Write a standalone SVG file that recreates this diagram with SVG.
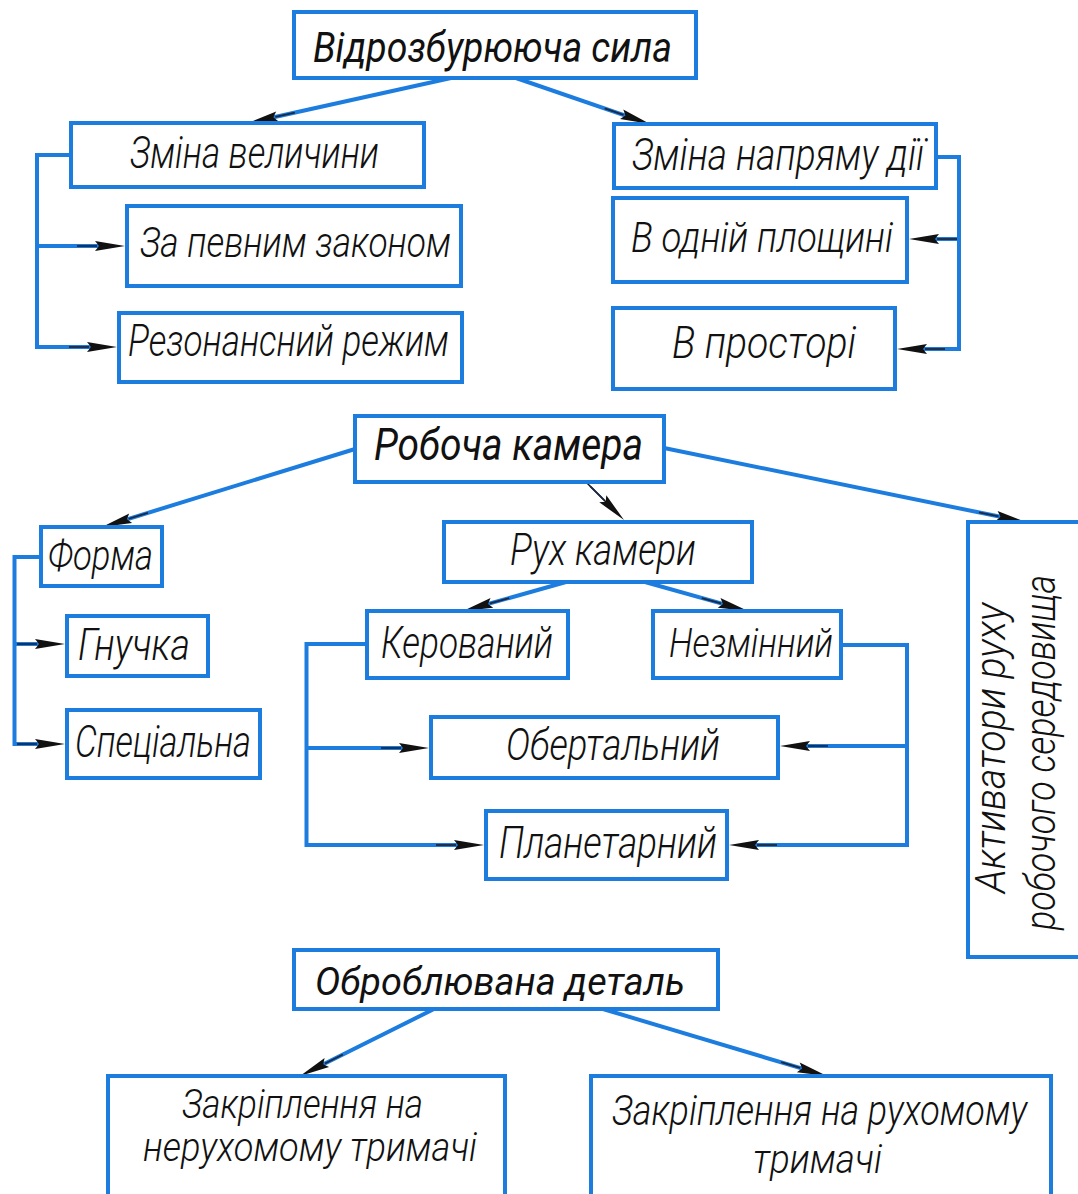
<svg xmlns="http://www.w3.org/2000/svg" width="1078" height="1194" viewBox="0 0 1078 1194">
<style>
rect.b{fill:#fff;stroke:#1c7ddf;stroke-width:4}
.c path,.c line{fill:none;stroke:#1c7ddf;stroke-width:4;marker-end:url(#ah)}
.c line.k{stroke:#111;stroke-width:1.5}
text{font-family:Roboto,"Liberation Sans",sans-serif;font-style:italic;font-weight:300;fill:#111}
text.h{font-weight:400}
</style>
<defs>
<marker id="ah" markerUnits="userSpaceOnUse" viewBox="-34 -7 52 14" refX="0" refY="0" markerWidth="52" markerHeight="14" orient="auto">
<path d="M-32,-0.9 H-12 V0.9 H-32 Z" fill="#1a2a44"/>
<path d="M16,0 L-14,-5 L-10,0 L-14,5 Z" fill="#111"/>
</marker>
</defs>
<rect width="1078" height="1194" fill="#fff"/>
<g class="c" id="connectors">
<line x1="451" y1="78" x2="263.6" y2="119.5"/>
<line x1="516" y1="78" x2="634.9" y2="118.8"/>
<path d="M71,155 H37 V347 H101"/>
<path d="M37,246 H109"/>
<path d="M936,157 H959 V349 H913"/>
<path d="M959,239 H925"/>
<line x1="355" y1="449" x2="117.3" y2="522.3"/>
<line class="k" x1="585" y1="481" x2="612.7" y2="508.7"/>
<line x1="664" y1="448" x2="1010.3" y2="518.8"/>
<path d="M41,557 H14.5 V744 H49"/>
<path d="M14.5,644 H49"/>
<line x1="566" y1="582" x2="478.4" y2="606.7"/>
<line x1="645" y1="582" x2="732.6" y2="606.7"/>
<path d="M367,644 H306.5 V845 H468"/>
<path d="M306.5,748 H413"/>
<path d="M841,645 H907 V845 H745"/>
<path d="M907,746 H796"/>
<line x1="434" y1="1009" x2="314.3" y2="1068.8"/>
<line x1="603" y1="1009" x2="811.7" y2="1071.4"/>
</g>
<g id="n-title"><rect class="b" x="294" y="12" width="402" height="66"/><text class="h" x="313" y="62" font-size="42" textLength="359" lengthAdjust="spacingAndGlyphs">Відрозбурююча сила</text></g>
<g id="n-zmina-vel"><rect class="b" x="71" y="123" width="353" height="64"/><text x="130" y="168" font-size="44" textLength="249" lengthAdjust="spacingAndGlyphs">Зміна величини</text></g>
<g id="n-za-pevnym"><rect class="b" x="127" y="206" width="334" height="80"/><text x="140" y="257" font-size="43" textLength="311" lengthAdjust="spacingAndGlyphs">За певним законом</text></g>
<g id="n-rezonans"><rect class="b" x="119" y="313" width="343" height="69"/><text x="128" y="356" font-size="44" textLength="321" lengthAdjust="spacingAndGlyphs">Резонансний режим</text></g>
<g id="n-zmina-napr"><rect class="b" x="614" y="124" width="322" height="64"/><text x="632" y="170" font-size="44" textLength="292" lengthAdjust="spacingAndGlyphs">Зміна напряму дії</text></g>
<g id="n-v-odnii"><rect class="b" x="613" y="198" width="294" height="84"/><text x="631" y="252" font-size="42" textLength="262" lengthAdjust="spacingAndGlyphs">В одній площині</text></g>
<g id="n-v-prostori"><rect class="b" x="613" y="308" width="282" height="81"/><text x="672" y="358" font-size="44" textLength="184" lengthAdjust="spacingAndGlyphs">В просторі</text></g>
<g id="n-robocha"><rect class="b" x="355" y="416" width="309" height="66"/><text class="h" x="374" y="460" font-size="45" textLength="269" lengthAdjust="spacingAndGlyphs">Робоча камера</text></g>
<g id="n-forma"><rect class="b" x="41" y="527" width="121" height="59"/><text x="48" y="570" font-size="42" textLength="105" lengthAdjust="spacingAndGlyphs">Форма</text></g>
<g id="n-gnuchka"><rect class="b" x="67" y="616" width="141" height="60"/><text x="78" y="660" font-size="44" textLength="112" lengthAdjust="spacingAndGlyphs">Гнучка</text></g>
<g id="n-specialna"><rect class="b" x="67" y="710" width="193" height="68"/><text x="75" y="757" font-size="45" textLength="176" lengthAdjust="spacingAndGlyphs">Спеціальна</text></g>
<g id="n-rukh"><rect class="b" x="444" y="522" width="308" height="60"/><text x="510" y="565" font-size="44" textLength="186" lengthAdjust="spacingAndGlyphs">Рух камери</text></g>
<g id="n-kerovanyi"><rect class="b" x="367" y="611" width="201" height="67"/><text x="381" y="658" font-size="44" textLength="172" lengthAdjust="spacingAndGlyphs">Керований</text></g>
<g id="n-nezminnyi"><rect class="b" x="653" y="611" width="188" height="67"/><text x="669" y="657" font-size="41" textLength="164" lengthAdjust="spacingAndGlyphs">Незмінний</text></g>
<g id="n-obertalnyi"><rect class="b" x="431" y="717" width="347" height="61"/><text x="506" y="760" font-size="44" textLength="214" lengthAdjust="spacingAndGlyphs">Обертальний</text></g>
<g id="n-planetarnyi"><rect class="b" x="486" y="811" width="241" height="68"/><text x="499" y="858" font-size="44" textLength="218" lengthAdjust="spacingAndGlyphs">Планетарний</text></g>
<g id="n-aktyvatory"><rect class="b" x="968" y="522" width="130" height="435"/>
<text transform="translate(1005,893) rotate(-90)" font-size="42" textLength="290" lengthAdjust="spacingAndGlyphs">Активатори руху</text>
<text transform="translate(1055,930) rotate(-90)" font-size="42" textLength="355" lengthAdjust="spacingAndGlyphs">робочого середовища</text></g>
<g id="n-obrobl"><rect class="b" x="294" y="950" width="424" height="59"/><text class="h" x="315" y="995" font-size="38" textLength="370" lengthAdjust="spacingAndGlyphs">Оброблювана деталь</text></g>
<g id="n-zakr-left"><rect class="b" x="108" y="1076" width="397" height="130"/>
<text x="182" y="1118" font-size="40" textLength="241" lengthAdjust="spacingAndGlyphs">Закріплення на</text>
<text x="143" y="1161" font-size="40" textLength="334" lengthAdjust="spacingAndGlyphs">нерухомому тримачі</text></g>
<g id="n-zakr-right"><rect class="b" x="591" y="1076" width="460" height="130"/>
<text x="612" y="1125" font-size="42" textLength="415" lengthAdjust="spacingAndGlyphs">Закріплення на рухомому</text>
<text x="753" y="1173" font-size="40" textLength="129" lengthAdjust="spacingAndGlyphs">тримачі</text></g>
</svg>
